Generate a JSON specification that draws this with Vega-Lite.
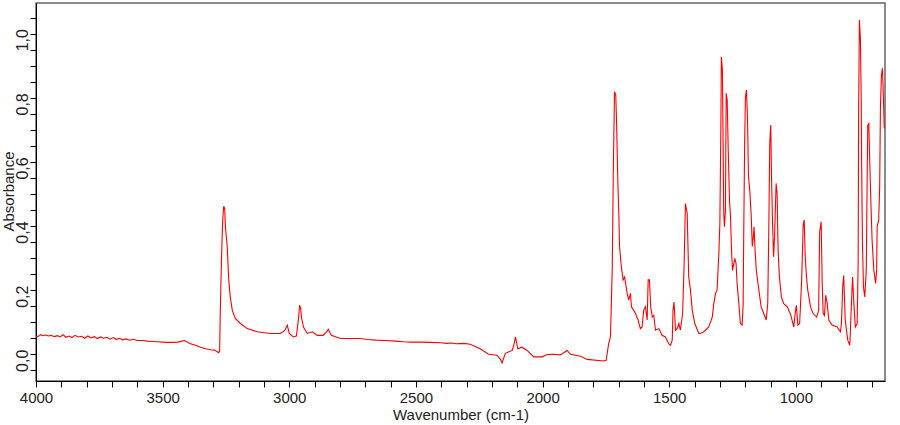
{
"$schema": "https://vega.github.io/schema/vega-lite/v6.json",
"width": 849, "height": 378,
"autosize": {"type": "none"},
"padding": {"left": 36, "top": 3, "right": 15, "bottom": 44},
"background": "white",
"config": {"view": {"stroke": "#666666", "strokeWidth": 1.5}, "font": "Liberation Sans"},
"data": {"values": [
{"w":4000,"a":0.105},{"w":3990,"a":0.106},{"w":3982,"a":0.111},{"w":3972,"a":0.108},{"w":3962,"a":0.110},{"w":3950,"a":0.107},{"w":3940,"a":0.109},{"w":3928,"a":0.105},{"w":3915,"a":0.108},{"w":3905,"a":0.104},{"w":3893,"a":0.111},{"w":3882,"a":0.103},{"w":3870,"a":0.107},{"w":3858,"a":0.102},{"w":3846,"a":0.109},{"w":3833,"a":0.104},{"w":3820,"a":0.106},{"w":3808,"a":0.100},{"w":3795,"a":0.107},{"w":3783,"a":0.101},{"w":3770,"a":0.105},{"w":3758,"a":0.099},{"w":3745,"a":0.104},{"w":3733,"a":0.100},{"w":3720,"a":0.103},{"w":3708,"a":0.097},{"w":3695,"a":0.102},{"w":3682,"a":0.096},{"w":3670,"a":0.100},{"w":3658,"a":0.095},{"w":3645,"a":0.098},{"w":3630,"a":0.094},{"w":3615,"a":0.097},{"w":3600,"a":0.093},{"w":3580,"a":0.093},{"w":3560,"a":0.091},{"w":3540,"a":0.090},{"w":3520,"a":0.089},{"w":3500,"a":0.088},{"w":3480,"a":0.087},{"w":3460,"a":0.087},{"w":3440,"a":0.088},{"w":3425,"a":0.091},{"w":3414,"a":0.093},{"w":3405,"a":0.089},{"w":3390,"a":0.083},{"w":3370,"a":0.078},{"w":3350,"a":0.072},{"w":3330,"a":0.067},{"w":3310,"a":0.064},{"w":3295,"a":0.063},{"w":3285,"a":0.058},{"w":3279,"a":0.055},{"w":3275,"a":0.060},{"w":3272,"a":0.200},{"w":3267,"a":0.367},{"w":3263,"a":0.466},{"w":3259,"a":0.512},{"w":3255,"a":0.505},{"w":3252,"a":0.446},{"w":3245,"a":0.386},{"w":3239,"a":0.282},{"w":3233,"a":0.229},{"w":3225,"a":0.187},{"w":3213,"a":0.162},{"w":3193,"a":0.146},{"w":3166,"a":0.130},{"w":3126,"a":0.120},{"w":3075,"a":0.115},{"w":3035,"a":0.115},{"w":3017,"a":0.125},{"w":3008,"a":0.141},{"w":3000,"a":0.115},{"w":2984,"a":0.104},{"w":2972,"a":0.107},{"w":2964,"a":0.159},{"w":2959,"a":0.203},{"w":2955,"a":0.193},{"w":2952,"a":0.166},{"w":2944,"a":0.135},{"w":2929,"a":0.115},{"w":2909,"a":0.120},{"w":2889,"a":0.109},{"w":2866,"a":0.109},{"w":2854,"a":0.119},{"w":2846,"a":0.128},{"w":2834,"a":0.109},{"w":2798,"a":0.099},{"w":2760,"a":0.099},{"w":2719,"a":0.099},{"w":2690,"a":0.096},{"w":2660,"a":0.094},{"w":2620,"a":0.093},{"w":2580,"a":0.091},{"w":2550,"a":0.089},{"w":2520,"a":0.088},{"w":2480,"a":0.088},{"w":2443,"a":0.087},{"w":2400,"a":0.086},{"w":2380,"a":0.084},{"w":2360,"a":0.085},{"w":2340,"a":0.083},{"w":2310,"a":0.084},{"w":2286,"a":0.081},{"w":2246,"a":0.067},{"w":2213,"a":0.050},{"w":2180,"a":0.047},{"w":2167,"a":0.035},{"w":2160,"a":0.023},{"w":2147,"a":0.053},{"w":2120,"a":0.062},{"w":2113,"a":0.080},{"w":2107,"a":0.104},{"w":2098,"a":0.067},{"w":2081,"a":0.072},{"w":2061,"a":0.062},{"w":2035,"a":0.042},{"w":2002,"a":0.042},{"w":1982,"a":0.049},{"w":1956,"a":0.050},{"w":1930,"a":0.048},{"w":1903,"a":0.062},{"w":1890,"a":0.050},{"w":1850,"a":0.044},{"w":1824,"a":0.034},{"w":1759,"a":0.029},{"w":1749,"a":0.031},{"w":1739,"a":0.083},{"w":1732,"a":0.104},{"w":1725,"a":0.312},{"w":1721,"a":0.599},{"w":1716,"a":0.869},{"w":1711,"a":0.858},{"w":1708,"a":0.781},{"w":1703,"a":0.594},{"w":1699,"a":0.490},{"w":1696,"a":0.386},{"w":1689,"a":0.323},{"w":1682,"a":0.282},{"w":1676,"a":0.291},{"w":1666,"a":0.240},{"w":1660,"a":0.219},{"w":1653,"a":0.240},{"w":1649,"a":0.198},{"w":1640,"a":0.187},{"w":1633,"a":0.177},{"w":1623,"a":0.157},{"w":1614,"a":0.130},{"w":1607,"a":0.135},{"w":1601,"a":0.187},{"w":1594,"a":0.198},{"w":1587,"a":0.157},{"w":1583,"a":0.282},{"w":1578,"a":0.282},{"w":1573,"a":0.198},{"w":1567,"a":0.166},{"w":1561,"a":0.171},{"w":1554,"a":0.125},{"w":1541,"a":0.130},{"w":1528,"a":0.109},{"w":1515,"a":0.104},{"w":1502,"a":0.083},{"w":1495,"a":0.078},{"w":1488,"a":0.094},{"w":1485,"a":0.187},{"w":1481,"a":0.213},{"w":1475,"a":0.125},{"w":1469,"a":0.130},{"w":1462,"a":0.146},{"w":1456,"a":0.125},{"w":1447,"a":0.177},{"w":1441,"a":0.333},{"w":1436,"a":0.520},{"w":1429,"a":0.490},{"w":1423,"a":0.291},{"w":1416,"a":0.250},{"w":1409,"a":0.187},{"w":1399,"a":0.146},{"w":1383,"a":0.115},{"w":1377,"a":0.115},{"w":1364,"a":0.120},{"w":1357,"a":0.125},{"w":1344,"a":0.135},{"w":1330,"a":0.166},{"w":1324,"a":0.208},{"w":1317,"a":0.240},{"w":1311,"a":0.250},{"w":1304,"a":0.365},{"w":1300,"a":0.458},{"w":1296,"a":0.760},{"w":1294,"a":0.978},{"w":1290,"a":0.937},{"w":1287,"a":0.698},{"w":1285,"a":0.499},{"w":1282,"a":0.448},{"w":1278,"a":0.499},{"w":1275,"a":0.864},{"w":1271,"a":0.843},{"w":1267,"a":0.687},{"w":1262,"a":0.531},{"w":1258,"a":0.479},{"w":1254,"a":0.375},{"w":1250,"a":0.312},{"w":1245,"a":0.333},{"w":1241,"a":0.349},{"w":1236,"a":0.333},{"w":1232,"a":0.271},{"w":1225,"a":0.208},{"w":1219,"a":0.146},{"w":1212,"a":0.141},{"w":1208,"a":0.208},{"w":1206,"a":0.406},{"w":1202,"a":0.718},{"w":1199,"a":0.853},{"w":1195,"a":0.874},{"w":1191,"a":0.791},{"w":1187,"a":0.604},{"w":1182,"a":0.562},{"w":1176,"a":0.479},{"w":1172,"a":0.386},{"w":1168,"a":0.416},{"w":1165,"a":0.448},{"w":1161,"a":0.375},{"w":1156,"a":0.312},{"w":1146,"a":0.250},{"w":1137,"a":0.198},{"w":1127,"a":0.177},{"w":1117,"a":0.157},{"w":1111,"a":0.208},{"w":1107,"a":0.427},{"w":1103,"a":0.708},{"w":1099,"a":0.765},{"w":1096,"a":0.604},{"w":1092,"a":0.458},{"w":1088,"a":0.354},{"w":1084,"a":0.416},{"w":1078,"a":0.583},{"w":1074,"a":0.552},{"w":1070,"a":0.375},{"w":1065,"a":0.291},{"w":1057,"a":0.229},{"w":1048,"a":0.208},{"w":1034,"a":0.198},{"w":1021,"a":0.175},{"w":1008,"a":0.135},{"w":1002,"a":0.182},{"w":998,"a":0.203},{"w":992,"a":0.141},{"w":985,"a":0.146},{"w":977,"a":0.282},{"w":971,"a":0.453},{"w":967,"a":0.469},{"w":963,"a":0.354},{"w":958,"a":0.291},{"w":953,"a":0.250},{"w":942,"a":0.198},{"w":932,"a":0.177},{"w":918,"a":0.166},{"w":910,"a":0.187},{"w":906,"a":0.432},{"w":900,"a":0.463},{"w":896,"a":0.271},{"w":892,"a":0.177},{"w":887,"a":0.171},{"w":882,"a":0.234},{"w":876,"a":0.208},{"w":870,"a":0.157},{"w":857,"a":0.141},{"w":837,"a":0.135},{"w":824,"a":0.120},{"w":820,"a":0.146},{"w":815,"a":0.260},{"w":811,"a":0.296},{"w":805,"a":0.157},{"w":800,"a":0.125},{"w":795,"a":0.094},{"w":787,"a":0.078},{"w":781,"a":0.198},{"w":776,"a":0.291},{"w":771,"a":0.208},{"w":765,"a":0.135},{"w":758,"a":0.146},{"w":754,"a":0.333},{"w":752,"a":0.823},{"w":749,"a":1.093},{"w":745,"a":1.031},{"w":742,"a":0.853},{"w":740,"a":0.624},{"w":737,"a":0.395},{"w":733,"a":0.260},{"w":728,"a":0.229},{"w":722,"a":0.312},{"w":718,"a":0.624},{"w":716,"a":0.765},{"w":712,"a":0.770},{"w":708,"a":0.645},{"w":704,"a":0.531},{"w":699,"a":0.406},{"w":692,"a":0.312},{"w":685,"a":0.271},{"w":681,"a":0.312},{"w":679,"a":0.448},{"w":673,"a":0.469},{"w":669,"a":0.573},{"w":666,"a":0.823},{"w":662,"a":0.921},{"w":658,"a":0.942},{"w":654,"a":0.843},{"w":651,"a":0.754}
]},
"mark": {"type": "line", "color": "#ff0000", "strokeWidth": 1.1, "clip": true},
"encoding": {
  "x": {"field": "w", "type": "quantitative",
    "scale": {"domain": [648, 4000], "reverse": true, "nice": false, "zero": false},
    "axis": {"title": "Wavenumber (cm-1)", "values": [4000,3900,3800,3700,3600,3500,3400,3300,3200,3100,3000,2900,2800,2700,2600,2500,2400,2300,2200,2100,2000,1900,1800,1700,1600,1500,1400,1300,1200,1100,1000,900,800,700],
      "labelExpr": "datum.value % 500 == 0 ? format(datum.value, 'd') : ''",
      "grid": false, "tickSize": 6, "tickColor": "#000000", "domainColor": "#000000",
      "labelFontSize": 15, "labelColor": "#222222", "labelPadding": 3, "labelOverlap": false, "labelFlush": false,
      "titleFontSize": 15, "titleFontWeight": "normal", "titleColor": "#222222", "titlePadding": 2}},
  "y": {"field": "a", "type": "quantitative",
    "scale": {"domain": [-0.0334, 1.1458], "nice": false, "zero": false},
    "axis": {"title": "Absorbance", "values": [0,0.05,0.1,0.15,0.2,0.25,0.3,0.35,0.4,0.45,0.5,0.55,0.6,0.65,0.7,0.75,0.8,0.85,0.9,0.95,1.0,1.05,1.1],
      "labelExpr": "round(datum.value*100) % 20 == 0 ? replace(format(datum.value, '.1f'), '.', ',') : ''",
      "grid": false, "tickSize": 6, "tickColor": "#000000", "domainColor": "#000000",
      "labelAngle": -90, "labelAlign": "center", "labelBaseline": "alphabetic", "labelPadding": 3, "labelOffset": -10,
      "labelFontSize": 16, "labelColor": "#222222", "labelOverlap": false, "labelFlush": false,
      "titleFontSize": 15, "titleFontWeight": "normal", "titleColor": "#222222",
      "titleAngle": -90, "titleX": -28, "titleY": 188, "titleAlign": "center", "titleBaseline": "middle"}}
}
}
